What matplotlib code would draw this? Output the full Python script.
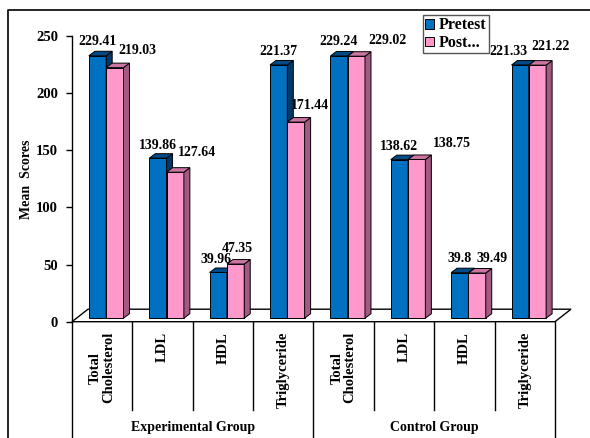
import matplotlib
matplotlib.use('Agg')
import matplotlib.pyplot as plt
from matplotlib.patches import Polygon, Patch
from matplotlib.lines import Line2D

plt.rcParams['font.family'] = ['Liberation Serif', 'DejaVu Serif']
plt.rcParams['font.weight'] = 'bold'

categories = ['Total\nCholesterol', 'LDL', 'HDL', 'Triglyceride',
              'Total\nCholesterol', 'LDL', 'HDL', 'Triglyceride']
groups = ['Experimental Group', 'Control Group']
pretest = [229.41, 139.86, 39.96, 221.37, 229.24, 138.62, 39.8, 221.33]
posttest = [219.03, 127.64, 47.35, 171.44, 229.02, 138.75, 39.49, 221.22]
series_names = ['Pretest', 'Post...']
yticks = [0, 50, 100, 150, 200, 250]

# label nudges in pixels (labels were dragged around in the original)
pre_dx = [0, 0, -2, 0, 0, 0, 0, -12]
pre_dy = [14, 13, 13, 13, 14, 13.5, 14.5, 13]
post_dx = [23, 22, 2, 14, 31, 35, 15, 13]
post_dy = [17, 20, 16, 17, 16, 15.5, 15, 19]

W, H = 590, 438
X0, PITCH = 72, 60.375     # px of category 0 left edge, px per category
Y0, SCALE = 321.7, 1.144   # px of value 0, px per unit

fig = plt.figure(figsize=(W / 100, H / 100), dpi=100)
ax = fig.add_axes([0, 0, 1, 1])
ax.set_xlim(-X0 / PITCH, (W - X0) / PITCH)
ax.set_ylim(-(H - Y0) / SCALE, Y0 / SCALE)


def px(dx):
    return dx / PITCH


def py(dy):
    return dy / SCALE


blue, blue_top, blue_side = '#0070C0', '#004A87', '#003968'
pink, pink_top, pink_side = '#FF99CC', '#CC75A3', '#A35A82'

# floor
fdx, fdy = px(16), py(12.5)
n = len(categories)
ax.add_patch(Polygon([(0, 0), (n, 0), (n + fdx, fdy), (fdx, fdy)],
                     closed=True, facecolor='white', edgecolor='black', lw=1, zorder=1))

bw = px(17.3)
ddx, ddy = px(6), py(4.5)
base = py(3.5)


def bar3d(x0, h, front, top, side):
    x1 = x0 + bw
    kw = dict(closed=True, edgecolor='black', lw=0.7, zorder=3)
    ax.add_patch(Polygon([(x0, base), (x1, base), (x1, h), (x0, h)], facecolor=front, **kw))
    ax.add_patch(Polygon([(x1, base), (x1 + ddx, base + ddy), (x1 + ddx, h + ddy), (x1, h)],
                         facecolor=side, **kw))
    ax.add_patch(Polygon([(x0, h), (x1, h), (x1 + ddx, h + ddy), (x0 + ddx, h + ddy)],
                         facecolor=top, **kw))


lab = dict(ha='center', va='center', fontsize=10, fontweight='bold',
           textcoords='offset pixels', zorder=5)
for i in range(n):
    c = i + 0.5 + px(4)
    hb = pretest[i] + base
    hp = posttest[i] + base
    bar3d(c - bw, hb, blue, blue_top, blue_side)
    bar3d(c, hp, pink, pink_top, pink_side)
    ax.annotate(f'{pretest[i]:g}', (c - bw / 2, hb), xytext=(pre_dx[i], pre_dy[i]), **lab)
    ax.annotate(f'{posttest[i]:g}', (c + bw / 2, hp), xytext=(post_dx[i], post_dy[i]), **lab)

# y axis
for s in ['top', 'right', 'bottom']:
    ax.spines[s].set_visible(False)
ax.spines['left'].set_position(('data', 0))
ax.spines['left'].set_bounds(0, 250)
ax.spines['left'].set_linewidth(1)
ax.set_yticks(yticks)
ax.set_yticklabels([str(t) for t in yticks], fontsize=10.5, fontweight='bold')
ax.tick_params(axis='y', direction='out', length=4, width=1, pad=6)
ax.set_xticks([])
ax.text(px(27 - X0), py(Y0 - 179), 'Mean  Scores', rotation=90, ha='center', va='center',
        fontsize=10, fontweight='bold')

# category labels and dividers
short_bot = -py(410 - Y0)
long_bot = -py(H - Y0)
for i in range(n + 1):
    bot = long_bot if i % 4 == 0 else short_bot
    ax.plot([i, i], [0, bot], color='black', lw=1, clip_on=False, zorder=2)
for i, name in enumerate(categories):
    ax.text(i + 0.5, -py(332 - Y0), name, rotation=90, ha='center', va='top',
            multialignment='center', fontsize=10.5, fontweight='bold', linespacing=1.0)
for g, name in enumerate(groups):
    ax.text(g * 4 + 2, -py(428 - Y0), name, ha='center', va='center',
            fontsize=10, fontweight='bold')

# outer frame
fig.add_artist(Line2D([8 / W, 8 / W, 1], [0, 1 - 10 / H, 1 - 10 / H],
                      transform=fig.transFigure, color='black', lw=1.2))

handles = [Patch(facecolor=blue, edgecolor='black', lw=0.7),
           Patch(facecolor=pink, edgecolor='black', lw=0.7)]
leg = fig.legend(handles, series_names, loc='upper left', bbox_to_anchor=(423 / W, 1 - 15 / H),
                 borderaxespad=0, fancybox=False, framealpha=1, edgecolor='#555555',
                 prop={'size': 11.5, 'weight': 'bold'}, handlelength=0.55, handleheight=0.55,
                 handletextpad=0.3, borderpad=0.15, labelspacing=0.1)
leg.get_frame().set_linewidth(1)

plt.savefig('out.png', dpi=100)
